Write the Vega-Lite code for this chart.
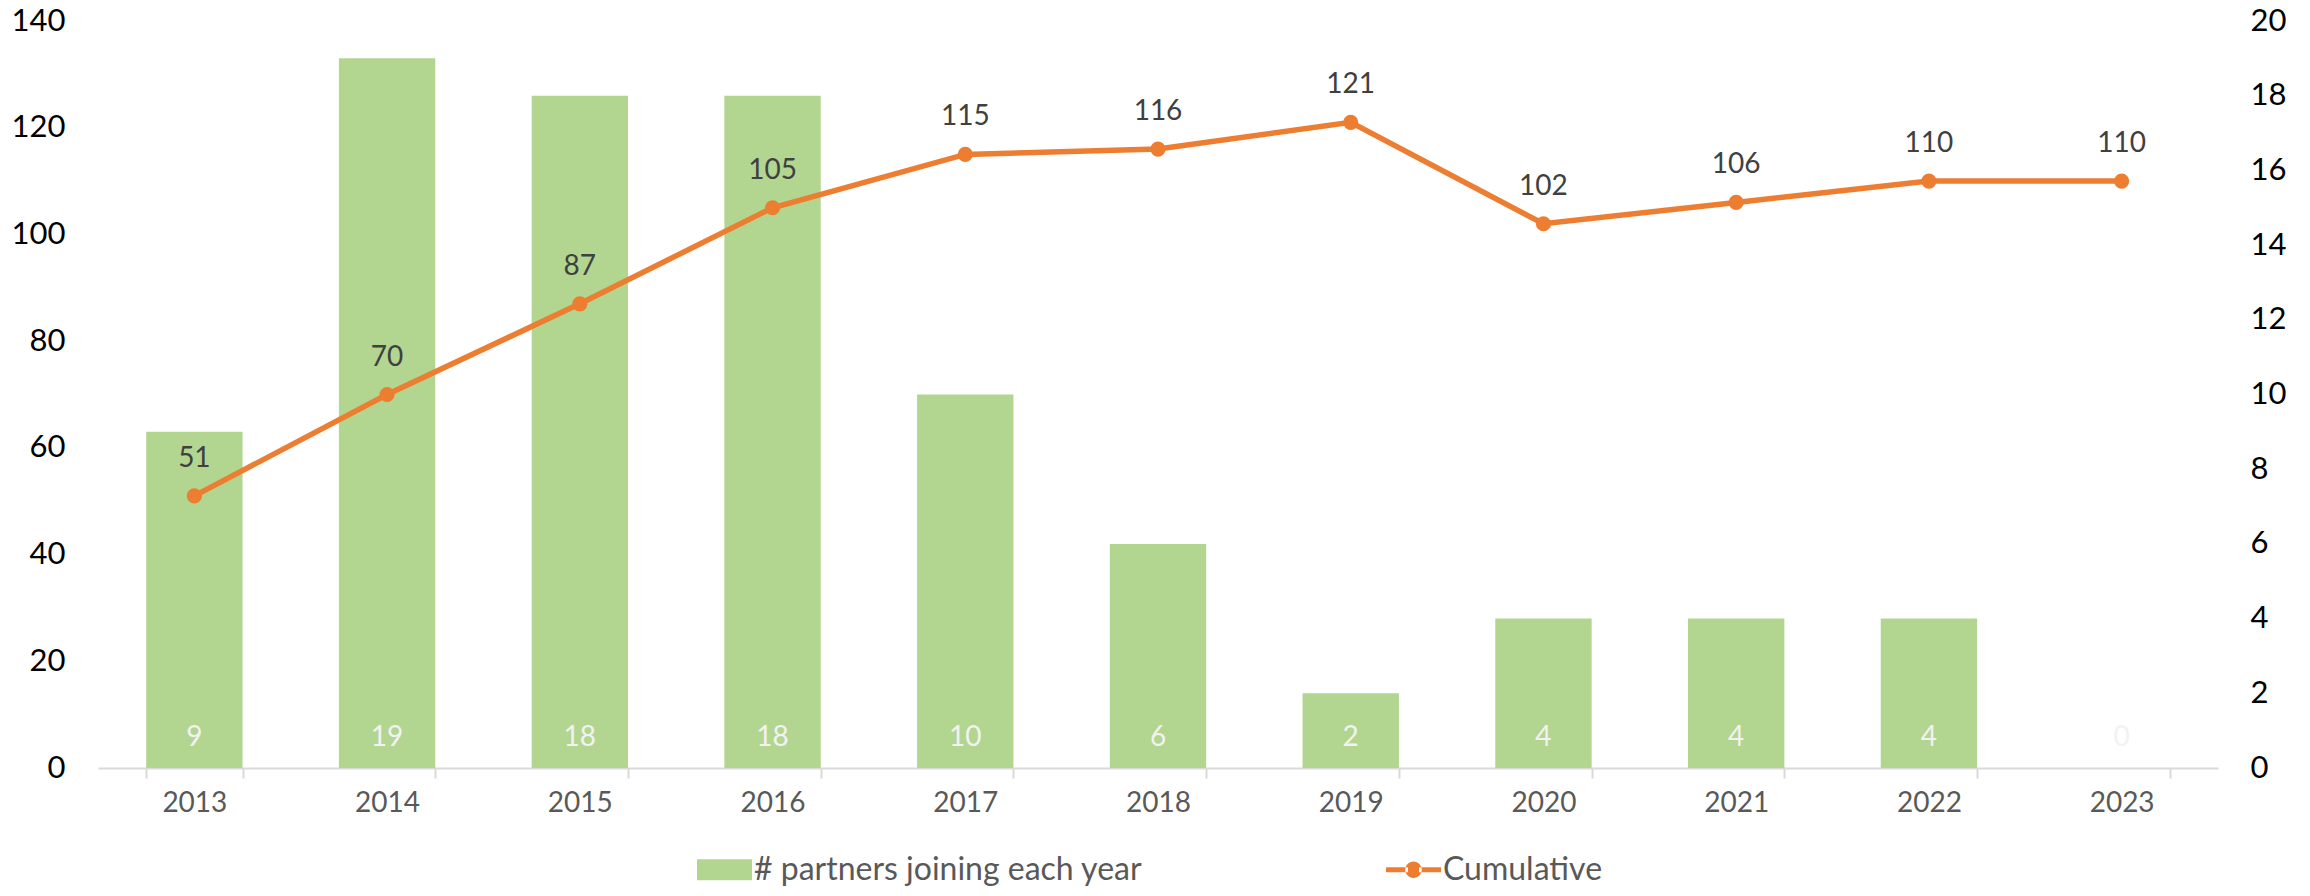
{
  "$schema": "https://vega.github.io/schema/vega-lite/v6.json",
  "width": 2120,
  "height": 747,
  "autosize": {"type": "none"},
  "padding": {"left": 98, "top": 21, "right": 92, "bottom": 128},
  "background": "white",
  "config": {
    "font": "Lato",
    "view": {"stroke": null},
    "axis": {"grid": false, "labelFont": "Lato", "titleFont": "Lato"},
    "legend": {"labelFont": "Lato"}
  },
  "data": {
    "values": [
      {"year": "2013", "partners": 9, "cumulative": 51},
      {"year": "2014", "partners": 19, "cumulative": 70},
      {"year": "2015", "partners": 18, "cumulative": 87},
      {"year": "2016", "partners": 18, "cumulative": 105},
      {"year": "2017", "partners": 10, "cumulative": 115},
      {"year": "2018", "partners": 6, "cumulative": 116},
      {"year": "2019", "partners": 2, "cumulative": 121},
      {"year": "2020", "partners": 4, "cumulative": 102},
      {"year": "2021", "partners": 4, "cumulative": 106},
      {"year": "2022", "partners": 4, "cumulative": 110},
      {"year": "2023", "partners": 0, "cumulative": 110}
    ]
  },
  "encoding": {
    "x": {
      "field": "year",
      "type": "ordinal",
      "scale": {"paddingInner": 0.5, "paddingOuter": 0.25},
      "axis": {
        "title": null,
        "labelAngle": 0,
        "labelFontSize": 28,
        "labelColor": "#595959",
        "labelPadding": 11,
        "domainColor": "#D9D9D9",
        "domainWidth": 2,
        "tickColor": "#D9D9D9",
        "tickWidth": 2,
        "tickSize": 10,
        "tickBand": "extent"
      }
    }
  },
  "layer": [
    {
      "layer": [
        {
          "mark": {"type": "bar"},
          "encoding": {
            "y": {
              "field": "partners",
              "type": "quantitative",
              "scale": {"domain": [0, 20], "nice": false},
              "axis": {
                "orient": "right",
                "title": null,
                "values": [0, 2, 4, 6, 8, 10, 12, 14, 16, 18, 20],
                "labelFontSize": 31,
                "labelColor": "#000000",
                "labelPadding": 32,
                "ticks": false,
                "domain": false
              }
            },
            "color": {
              "datum": "# partners joining each year",
              "type": "nominal",
              "scale": {
                "domain": ["# partners joining each year", "Cumulative"],
                "range": ["#B2D68F", "#ED7D31"]
              },
              "legend": {
                "orient": "none",
                "legendX": 599,
                "legendY": 821,
                "direction": "horizontal",
                "title": null,
                "labelFontSize": 32,
                "labelColor": "#595959",
                "labelLimit": 800,
                "labelOffset": 2,
                "columnPadding": 243,
                "symbolSize": 3025,
                "symbolStrokeWidth": 0,
                "symbolOpacity": 1,
                "encode": {
                  "symbols": {
                    "update": {
                      "shape": {"signal": "datum.label == 'Cumulative' ? 'M-1,-0.09H-0.2V0.09H-1Z M0.2,-0.09H1V0.09H0.2Z M-0.3,0 A0.3,0.3 0 1,0 0.3,0 A0.3,0.3 0 1,0 -0.3,0Z' : 'M-1,-0.38H1V0.38H-1Z'"},
                      "fill": {"signal": "datum.label == 'Cumulative' ? '#ED7D31' : '#B2D68F'"},
                      "opacity": {"value": 1},
                      "strokeWidth": {"value": 0}
                    }
                  }
                }
              }
            }
          }
        },
        {
          "mark": {"type": "text", "baseline": "middle", "dy": -30, "fontSize": 28, "color": "#F2F2F2"},
          "encoding": {
            "y": {"datum": 0, "type": "quantitative"},
            "text": {"field": "partners", "type": "quantitative"}
          }
        }
      ]
    },
    {
      "layer": [
        {
          "mark": {"type": "line", "strokeWidth": 5.5, "point": {"size": 230, "filled": true, "opacity": 1}},
          "encoding": {
            "y": {
              "field": "cumulative",
              "type": "quantitative",
              "scale": {"domain": [0, 140], "nice": false},
              "axis": {
                "orient": "left",
                "title": null,
                "values": [0, 20, 40, 60, 80, 100, 120, 140],
                "labelFontSize": 31,
                "labelColor": "#000000",
                "labelPadding": 33,
                "ticks": false,
                "domain": false
              }
            },
            "color": {"datum": "Cumulative", "type": "nominal"}
          }
        },
        {
          "mark": {"type": "text", "baseline": "middle", "dy": -37, "fontSize": 28, "color": "#404040"},
          "encoding": {
            "y": {"field": "cumulative", "type": "quantitative"},
            "text": {"field": "cumulative", "type": "quantitative"}
          }
        }
      ]
    }
  ],
  "resolve": {"scale": {"y": "independent"}}
}
